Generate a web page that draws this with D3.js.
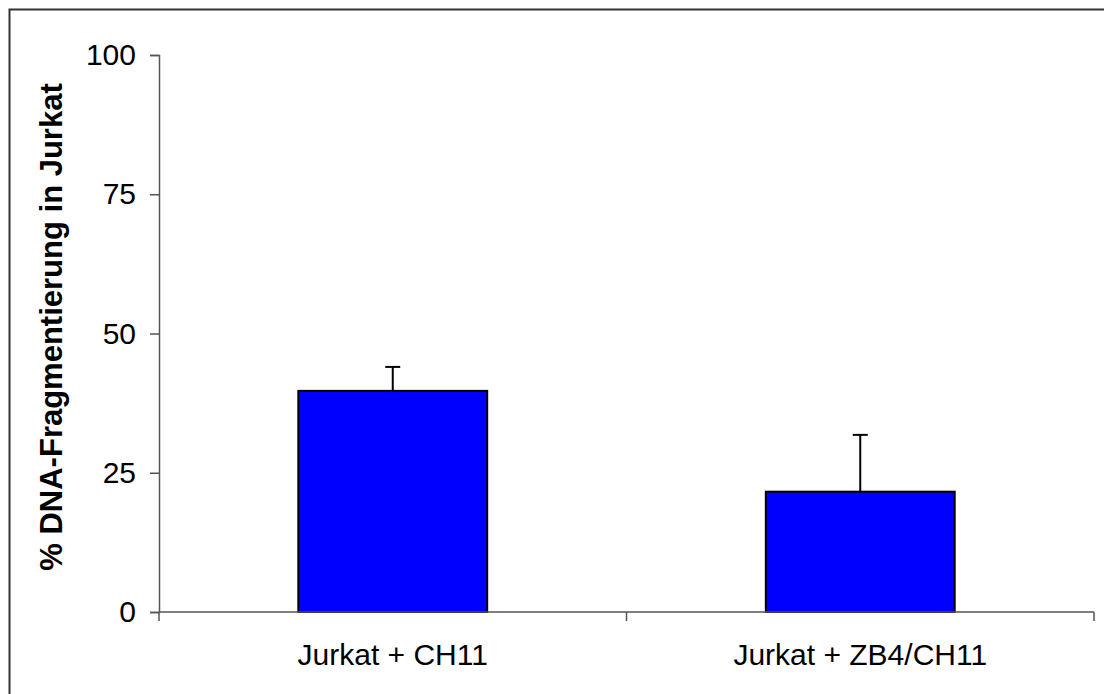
<!DOCTYPE html>
<html>
<head>
<meta charset="utf-8">
<script src="https://cdn.jsdelivr.net/npm/d3@7"></script>
<style>
  body { margin: 0; background: #fff; }
  svg { display: block; font-family: "Liberation Sans", Arial, sans-serif; }
</style>
</head>
<body>
<div id="chart"></div>
<script>
// chart data
var categories = ["Jurkat + CH11", "Jurkat + ZB4/CH11"];
var values = [39.7, 21.6];
var errors = [4.3, 10.2];
var yTicks = [0, 25, 50, 75, 100];
var yTitle = "% DNA-Fragmentierung in Jurkat";

var width = 1104, height = 694;
var plot = { left: 159, right: 1094, top: 55, bottom: 612 };

var svg = d3.select("#chart")
  .append("svg")
  .attr("width", width)
  .attr("height", height);

// outer frame (right/bottom edges fall outside the picture)
svg.append("rect")
  .attr("x", 9.5)
  .attr("y", 9.5)
  .attr("width", 1110)
  .attr("height", 700)
  .attr("fill", "none")
  .attr("stroke", "#333")
  .attr("stroke-width", 2);

var x = d3.scaleBand()
  .domain(categories)
  .range([plot.left, plot.right])
  .paddingInner(0.596)
  .paddingOuter(0.298);

var y = d3.scaleLinear()
  .domain([0, 100])
  .range([plot.bottom, plot.top]);

// bars
svg.append("g")
  .selectAll("rect")
  .data(categories)
  .join("rect")
  .attr("x", function(d) { return x(d); })
  .attr("y", function(d, i) { return y(values[i]); })
  .attr("width", x.bandwidth())
  .attr("height", function(d, i) { return y(0) - y(values[i]); })
  .attr("fill", "#0000ff")
  .attr("stroke", "#000")
  .attr("stroke-width", 2);

// error bars (upper only)
var err = svg.append("g")
  .attr("stroke", "#000")
  .attr("stroke-width", 2);

categories.forEach(function(c, i) {
  var cx = x(c) + x.bandwidth() / 2;
  err.append("line")
    .attr("x1", cx).attr("x2", cx)
    .attr("y1", y(values[i])).attr("y2", y(values[i] + errors[i]));
  err.append("line")
    .attr("x1", cx - 7.5).attr("x2", cx + 7.5)
    .attr("y1", y(values[i] + errors[i])).attr("y2", y(values[i] + errors[i]));
});

// y axis
var yAxis = svg.append("g")
  .attr("transform", "translate(" + plot.left + ",0)")
  .call(d3.axisLeft(y).tickValues(yTicks).tickSize(9).tickPadding(14));

// x axis with ticks between categories
var xEdges = [plot.left, (plot.left + plot.right) / 2, plot.right];
var xAxis = svg.append("g")
  .attr("transform", "translate(0," + plot.bottom + ")");
xAxis.append("line")
  .attr("x1", plot.left).attr("x2", plot.right)
  .attr("stroke", "#555").attr("stroke-width", 1.5);
xAxis.selectAll(".edge")
  .data(xEdges)
  .join("line")
  .attr("class", "edge")
  .attr("x1", function(d) { return d; })
  .attr("x2", function(d) { return d; })
  .attr("y1", 0).attr("y2", 9)
  .attr("stroke", "#555").attr("stroke-width", 1.5);
xAxis.selectAll("text")
  .data(categories)
  .join("text")
  .attr("x", function(d) { return x(d) + x.bandwidth() / 2; })
  .attr("y", 53)
  .attr("text-anchor", "middle")
  .attr("font-size", 30)
  .attr("fill", "#000")
  .text(function(d) { return d; });

yAxis.select(".domain").attr("stroke", "#555").attr("stroke-width", 1.5);
yAxis.selectAll(".tick line").attr("stroke", "#555").attr("stroke-width", 1.5);
yAxis.selectAll(".tick text")
  .attr("font-size", 30)
  .attr("font-family", "Liberation Sans, Arial, sans-serif")
  .attr("fill", "#000");

// y title
svg.append("text")
  .attr("transform", "translate(62," + 327 + ") rotate(-90)")
  .attr("text-anchor", "middle")
  .attr("font-size", 31)
  .attr("font-weight", "bold")
  .attr("fill", "#000")
  .text(yTitle);
</script>
</body>
</html>
